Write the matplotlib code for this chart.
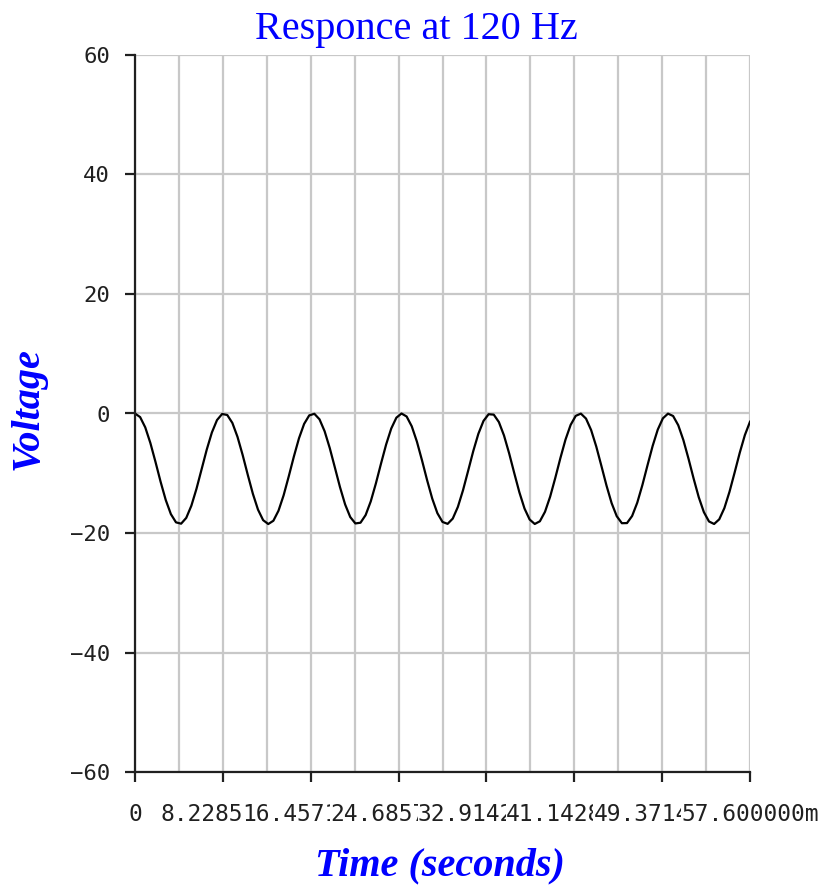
import numpy as np
import matplotlib.pyplot as plt

# time axis (ms) sampled evenly over the 57.6 ms window
time_ms = np.linspace(0, 57.6, 121)
voltage = [
    -0.00, -0.60, -2.32, -4.94, -8.11, -11.44, -14.48, -16.84, -18.22, -18.44, -17.47, -15.43,
    -12.59, -9.32, -6.04, -3.18, -1.10, -0.08, -0.25, -1.58, -3.91, -6.93, -10.25, -13.44,
    -16.09, -17.85, -18.50, -17.95, -16.27, -13.69, -10.52, -7.20, -4.14, -1.74, -0.31, -0.05,
    -0.97, -2.97, -5.78, -9.04, -12.33, -15.22, -17.33, -18.40, -18.28, -17.00, -14.71, -11.71,
    -8.39, -5.19, -2.51, -0.70, -0.00, -0.50, -2.14, -4.69, -7.84, -11.17, -14.25, -16.68,
    -18.15, -18.47, -17.59, -15.63, -12.85, -9.60, -6.30, -3.39, -1.24, -0.12, -0.19, -1.43,
    -3.68, -6.66, -9.97, -13.19, -15.90, -17.74, -18.49, -18.04, -16.45, -13.93, -10.80, -7.47,
    -4.37, -1.91, -0.39, -0.02, -0.85, -2.77, -5.52, -8.76, -12.06, -15.00, -17.19, -18.36,
    -18.34, -17.15, -14.93, -11.98, -8.67, -5.44, -2.70, -0.81, -0.02, -0.42, -1.96, -4.45,
    -7.56, -10.89, -14.01, -16.51, -18.07, -18.49, -17.71, -15.83, -13.10, -9.88, -6.57, -3.61,
    -1.38,
]

x_ticks = np.linspace(0, 57.6, 8)
x_tick_labels = ["0", "8.228571m", "16.457143m", "24.685714m", "32.914286m",
                 "41.142857m", "49.371429m", "57.600000m"]
y_ticks = [-60, -40, -20, 0, 20, 40, 60]

fig = plt.figure(figsize=(8.33, 8.88), dpi=100)
ax = fig.add_axes([135 / 833, 1 - 772 / 888, 615 / 833, 717 / 888])

ax.plot(time_ms, voltage, color="black", lw=1.6)

ax.set_xlim(0, 57.6)
ax.set_ylim(-60, 60)
ax.set_xticks(x_ticks)
ax.set_xticks(np.linspace(0, 57.6, 15), minor=True)
ax.set_yticks(y_ticks)
ax.set_xticklabels(x_tick_labels)
ax.set_yticklabels([str(v).replace("-", "\u2212") for v in y_ticks])

ax.grid(True, which="both", axis="x", color="#c8c8c8", lw=1.6)
ax.grid(True, which="major", axis="y", color="#c8c8c8", lw=1.6)
ax.set_axisbelow(True)

for side in ["top", "right"]:
    ax.spines[side].set_visible(False)
for side in ["left", "bottom"]:
    ax.spines[side].set_color("#202020")
    ax.spines[side].set_linewidth(1.6)

# the original labels run into each other; later ones paint over earlier ones
ax.tick_params(axis="x", which="major", direction="out", length=7, width=1.6,
               pad=15, labelsize=16.5, color="#202020")
ax.tick_params(axis="x", which="minor", length=0)
ax.tick_params(axis="y", direction="out", length=7, width=1.6, pad=11,
               labelsize=16, color="#202020")
for lbl in ax.get_xticklabels() + ax.get_yticklabels():
    lbl.set_family("DejaVu Sans Mono")
    lbl.set_color("#202020")
for lbl in ax.get_xticklabels():
    lbl.set_bbox(dict(facecolor="white", edgecolor="none", pad=0))

fig.text(0.5, 1 - 39 / 888, "Responce at 120 Hz", ha="center", va="baseline",
         color="blue", fontsize=29, family="Liberation Serif")
fig.text(440 / 833, 1 - 875 / 888, "Time (seconds)", ha="center", va="baseline",
         color="blue", fontsize=29, family="Liberation Serif",
         weight="bold", style="italic")
fig.text(28 / 833, 1 - 409 / 888, "Voltage", ha="center", va="center", rotation=90,
         color="blue", fontsize=29, family="Liberation Serif",
         weight="bold", style="italic")

fig.savefig("out.png", dpi=100)
